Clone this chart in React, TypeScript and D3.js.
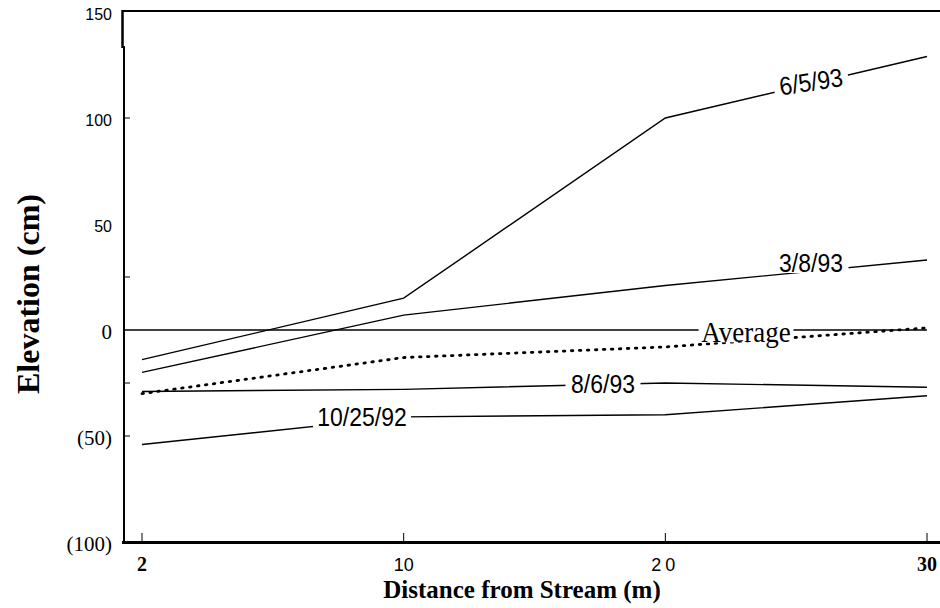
import * as d3 from 'd3';
import React from 'react';

// distance categories (m) and tick labels
const distances = ['2', '10', '20', '30'];
const yTicks = [150, 100, 50, 0, -50, -100];
const yMinorTicks = [100, 25, -25, -50];

// elevation (cm) per survey date
const jun593 = [-14, 15, 100, 129];
const mar893 = [-20, 7, 21, 33];
const average = [-30, -13, -8, 1];
const aug693 = [-29, -28, -25, -27];
const oct2592 = [-54, -41, -40, -31];
const zeroLine = [0, 0, 0, 0];

const series = [
    { name: '6/5/93', values: jun593, dotted: false },
    { name: '3/8/93', values: mar893, dotted: false },
    { name: 'Average', values: average, dotted: true },
    { name: '8/6/93', values: aug693, dotted: false },
    { name: '10/25/92', values: oct2592, dotted: false },
];

// where each inline label sits (pixel x along its line), plus small nudges
const labelSpots = [
    { name: '6/5/93', px: 811, dy: -2, serif: false, size: 23, rotate: true },
    { name: '3/8/93', px: 811, dy: -8, serif: false, size: 23, rotate: false },
    { name: 'Average', px: 746, dy: 1, serif: true, size: 27, rotate: false, on: 'zero' },
    { name: '8/6/93', px: 603, dy: 0, serif: false, size: 23, rotate: false },
    { name: '10/25/92', px: 362, dy: -4, serif: false, size: 23, rotate: false },
];

const W = 940;
const H = 608;
const SANS = '"Liberation Sans", Arial, sans-serif';
const SERIF = '"Liberation Serif", "Times New Roman", serif';

function App() {
    const x = d3.scalePoint().domain(distances).range([142, 927]);
    const y = d3.scaleLinear().domain([-100, 150]).range([542, 12]);

    const line = d3.line<number>()
        .x((d, i) => x(distances[i]) as number)
        .y(d => y(d));

    // y of a series at pixel x (piecewise linear)
    const yAt = (values: number[], px: number) => {
        const xs = distances.map(d => x(d) as number);
        for (let i = 0; i < xs.length - 1; i++) {
            if (px >= xs[i] && px <= xs[i + 1]) {
                const t = (px - xs[i]) / (xs[i + 1] - xs[i]);
                const y0 = y(values[i]);
                const y1 = y(values[i + 1]);
                return { py: y0 + t * (y1 - y0), slope: (y1 - y0) / (xs[i + 1] - xs[i]) };
            }
        }
        return { py: y(values[0]), slope: 0 };
    };

    const fmtY = (v: number) => (v < 0 ? `(${-v})` : `${v}`);

    return (
        <svg width={W} height={H} style={{ position: 'absolute', left: 0, top: 0, background: '#fff' }}>
            {/* frame */}
            <line x1={122} x2={W} y1={11} y2={11} stroke="#000" strokeWidth={2} />
            <line x1={122.5} x2={122.5} y1={10} y2={48} stroke="#000" strokeWidth={2.5} />
            <line x1={124} x2={124} y1={46} y2={543} stroke="#000" strokeWidth={2} />
            <line x1={122} x2={W} y1={542.5} y2={542.5} stroke="#000" strokeWidth={3} />

            {/* y ticks */}
            {yMinorTicks.map(t => (
                <line key={'yt' + t} x1={125} x2={130} y1={y(t)} y2={y(t)} stroke="#000" strokeWidth={1} />
            ))}
            {yTicks.map(t => (
                <text
                    key={'yl' + t}
                    x={112}
                    y={y(t) + 2}
                    textAnchor="end"
                    dominantBaseline="central"
                    fontFamily={t > 0 ? SANS : SERIF}
                    fontSize={t > 0 ? 16 : 21}
                    fill="#000"
                >
                    {fmtY(t)}
                </text>
            ))}

            {/* x ticks */}
            {distances.map((d, i) => (
                <g key={'xt' + d}>
                    <line x1={x(d)} x2={x(d)} y1={533} y2={541} stroke="#000" strokeWidth={1} />
                    <text
                        x={x(d)}
                        y={571}
                        textAnchor="middle"
                        fontFamily={i === 0 || i === 3 ? SERIF : SANS}
                        fontWeight={i === 0 || i === 3 ? 'bold' : 'normal'}
                        fontSize={i === 0 || i === 3 ? 20 : 18}
                        letterSpacing={i === 2 ? 4 : 0}
                        fill="#000"
                    >
                        {d}
                    </text>
                </g>
            ))}

            {/* zero reference line, from the axis out to the last station */}
            <line x1={124} x2={x('30')} y1={y(0)} y2={y(0)} stroke="#000" strokeWidth={1.4} />

            {/* series */}
            {series.map(s => (
                <path
                    key={s.name}
                    d={line(s.values) as string}
                    fill="none"
                    stroke="#000"
                    strokeWidth={s.dotted ? 2.8 : 1.4}
                    strokeDasharray={s.dotted ? '1.5,6.5' : undefined}
                    strokeLinecap={s.dotted ? 'round' : 'butt'}
                />
            ))}

            {/* inline labels */}
            {labelSpots.map(l => {
                const vals = l.on === 'zero' ? zeroLine : series.find(d => d.name === l.name)!.values;
                const { py, slope } = yAt(vals, l.px);
                const angle = l.rotate ? (Math.atan(slope) * 180) / Math.PI * 0.65 : 0;
                const txtW = l.name.length * l.size * (l.serif ? 0.47 : 0.5);
                return (
                    <g key={'lab' + l.name} transform={`translate(${l.px},${py + l.dy}) rotate(${angle})`}>
                        <rect x={-txtW / 2 - 3} y={-l.size * 0.42} width={txtW + 6} height={l.size * 0.84} fill="#fff" />
                        <text
                            textAnchor="middle"
                            dominantBaseline="central"
                            fontFamily={l.serif ? SERIF : SANS}
                            fontSize={l.size}
                            transform="scale(1,1.12)"
                            fill="#000"
                        >
                            {l.name}
                        </text>
                    </g>
                );
            })}

            {/* axis titles */}
            <text
                x={522}
                y={598}
                textAnchor="middle"
                fontFamily={SERIF}
                fontWeight="bold"
                fontSize={25}
                fill="#000"
            >
                Distance from Stream (m)
            </text>
            <text
                transform="translate(39,294) rotate(-90)"
                textAnchor="middle"
                fontFamily={SERIF}
                fontWeight="bold"
                fontSize={32}
                fill="#000"
            >
                Elevation (cm)
            </text>
        </svg>
    );
}

export default App;
